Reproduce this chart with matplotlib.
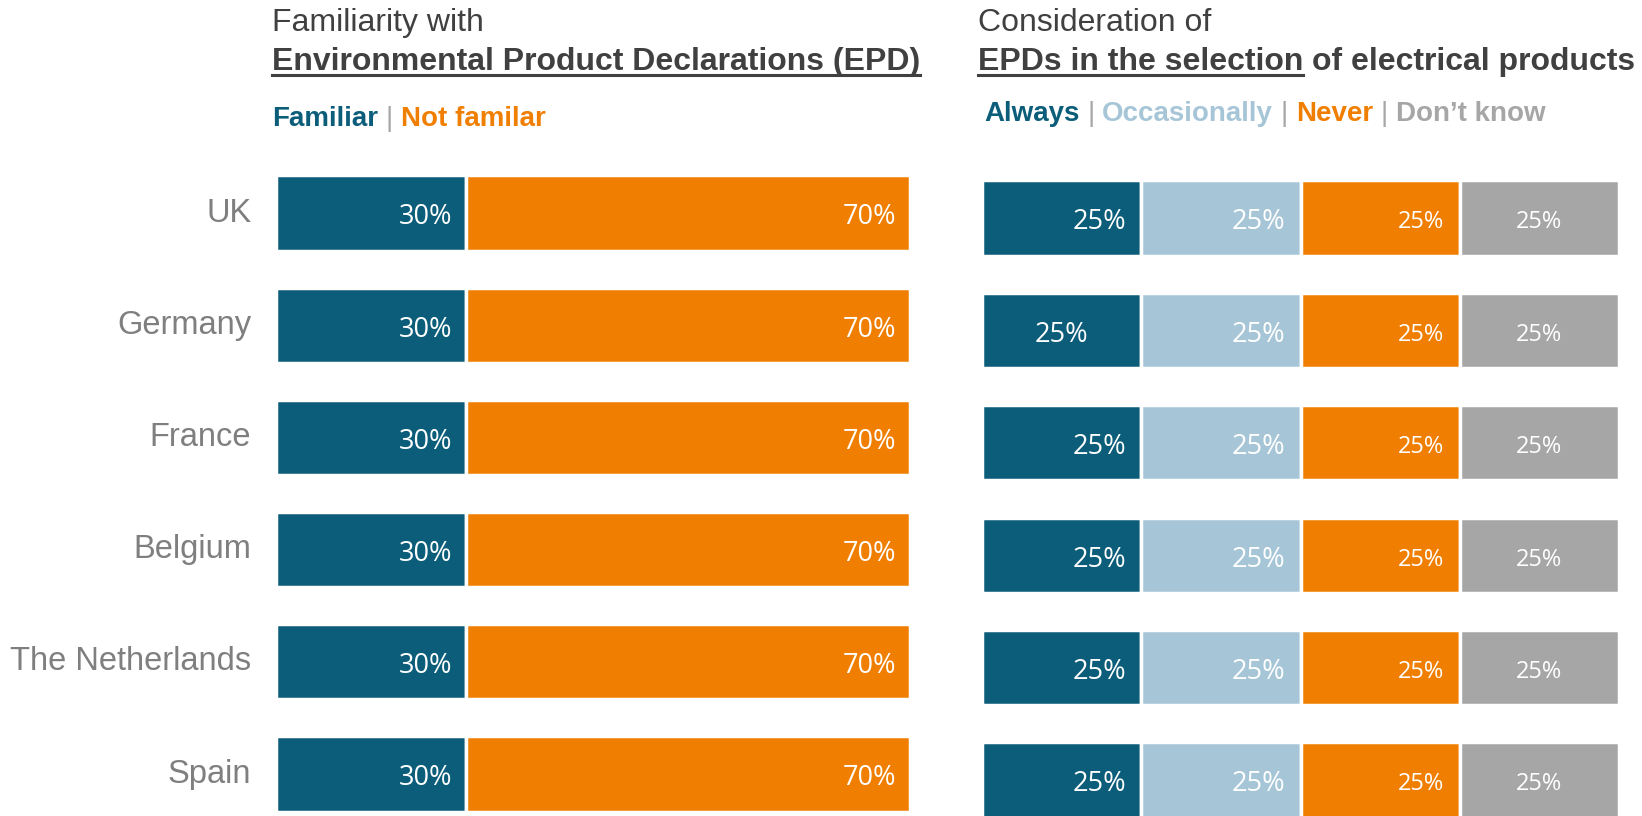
import matplotlib
matplotlib.use("Agg")
import matplotlib.pyplot as plt
from matplotlib.lines import Line2D

# ---------------- data ----------------
categories = ["UK", "Germany", "France", "Belgium", "The Netherlands", "Spain"]
familiar = [30, 30, 30, 30, 30, 30]
not_familiar = [70, 70, 70, 70, 70, 70]

always = [25, 25, 25, 25, 25, 25]
occasionally = [25, 25, 25, 25, 25, 25]
never = [25, 25, 25, 25, 25, 25]
dont_know = [25, 25, 25, 25, 25, 25]

left_legend = ["Familiar", "Not familar"]
right_legend = ["Always", "Occasionally", "Never", "Don\u2019t know"]

# ---------------- style ----------------
C_DARK = "#0B5D7A"
C_LIGHT = "#A6C6D8"
C_ORANGE = "#F07E00"
C_GREY = "#A6A6A6"
C_TITLE = "#404040"
C_CAT = "#7F7F7F"
C_SEP = "#A6A6A6"

TITLE_FONT = "Liberation Sans"
LABEL_FONT = "Open Sans"

W, H = 1642, 816
fig = plt.figure(figsize=(W / 100, H / 100), dpi=100)
fig.patch.set_facecolor("white")


def make_axes(x0, x1, y_top, row0, spacing, n):
    ax = fig.add_axes([x0 / W, 0, (x1 - x0) / W, 1 - y_top / H])
    ax.set_xlim(0, 100)
    top = -(row0 - y_top) / spacing
    bottom = (H - row0) / spacing
    ax.set_ylim(bottom, top)
    ax.axis("off")
    return ax


n = len(categories)
ypos = list(range(n))
BAR_H = 0.67

# ---------------- left panel ----------------
axL = make_axes(276, 910, 150, 213, 112.2, n)
axL.barh(ypos, familiar, left=0, height=BAR_H, color=C_DARK,
         edgecolor="white", linewidth=2.5)
axL.barh(ypos, not_familiar, left=familiar, height=BAR_H, color=C_ORANGE,
         edgecolor="white", linewidth=2.5)
for i in ypos:
    axL.text(familiar[i] - 2.2, i + 0.04, f"{familiar[i]}%", ha="right", va="center",
             color="white", fontsize=19.5, family=LABEL_FONT)
    axL.text(familiar[i] + not_familiar[i] - 2.2, i + 0.04, f"{not_familiar[i]}%",
             ha="right", va="center", color="white", fontsize=19.5,
             family=LABEL_FONT)
    axL.text(-3.9, i, categories[i], ha="right", va="center", color=C_CAT,
             fontsize=23.5, family=TITLE_FONT)

# ---------------- right panel ----------------
axR = make_axes(982, 1619, 150, 218, 112.4, n)
series = [always, occasionally, never, dont_know]
colors = [C_DARK, C_LIGHT, C_ORANGE, C_GREY]
label_sizes = [19.5, 19.5, 17, 17]
lefts = [0] * n
for s, col, fs, k in zip(series, colors, label_sizes, range(4)):
    axR.barh(ypos, s, left=lefts, height=BAR_H, color=col,
             edgecolor="white", linewidth=2.5)
    for i in ypos:
        end = lefts[i] + s[i]
        if k == 3 or (k == 0 and categories[i] == "Germany"):
            axR.text(lefts[i] + s[i] / 2, i + 0.04, f"{s[i]}%", ha="center",
                     va="center", color="white", fontsize=fs, family=LABEL_FONT)
        else:
            axR.text(end - 2.4, i + 0.04, f"{s[i]}%", ha="right", va="center",
                     color="white", fontsize=fs, family=LABEL_FONT)
    lefts = [l + v for l, v in zip(lefts, s)]

# ---------------- titles & legends ----------------
fig.canvas.draw()
renderer = fig.canvas.get_renderer()


def text_px(x, y, s, **kw):
    t = fig.text(x / W, 1 - y / H, s, ha="left", va="baseline", **kw)
    bb = t.get_window_extent(renderer=renderer)
    return t, bb.width


def measure(s, size, weight):
    t, w = text_px(0, 0, s, fontsize=size, weight=weight, family=TITLE_FONT)
    t.remove()
    return w


def space_w(size, weight):
    return measure("x x", size, weight) - measure("xx", size, weight)


def runs(x, y, items, size):
    """items: list of (text, color, weight, underline, space_after)"""
    cur = x
    for txt, col, wt, ul, sp in items:
        t, w = text_px(cur, y, txt, fontsize=size, weight=wt, color=col,
                       family=TITLE_FONT)
        if ul:
            yy = 1 - (y + 5) / H
            fig.add_artist(Line2D([cur / W, (cur + w) / W], [yy, yy],
                                  color=col, linewidth=2.2,
                                  transform=fig.transFigure))
        cur += w
        if sp:
            cur += space_w(size, wt)


TS = 23
# left titles
text_px(272, 31, "Familiarity with", fontsize=TS, color=C_TITLE, family=TITLE_FONT)
runs(272, 70, [("Environmental Product Declarations (EPD)", C_TITLE, "bold", True, False)], TS)

# right titles
text_px(978, 31, "Consideration of", fontsize=TS, color=C_TITLE, family=TITLE_FONT)
runs(978, 70, [("EPDs in the selection", C_TITLE, "bold", True, True),
               ("of electrical products", C_TITLE, "bold", False, False)], TS)

LS = 20
leg_left = [(left_legend[0], C_DARK, "bold", False, True),
            ("|", C_SEP, "normal", False, True),
            (left_legend[1], C_ORANGE, "bold", False, False)]
runs(272, 126, leg_left, LS)

leg_right = []
for j, (lab, col) in enumerate(zip(right_legend, colors)):
    leg_right.append((lab, col, "bold", False, True))
    if j < len(right_legend) - 1:
        leg_right.append(("|", C_SEP, "normal", False, True))
runs(984, 121, leg_right, LS)

fig.savefig("out.png", dpi=100, facecolor="white")
